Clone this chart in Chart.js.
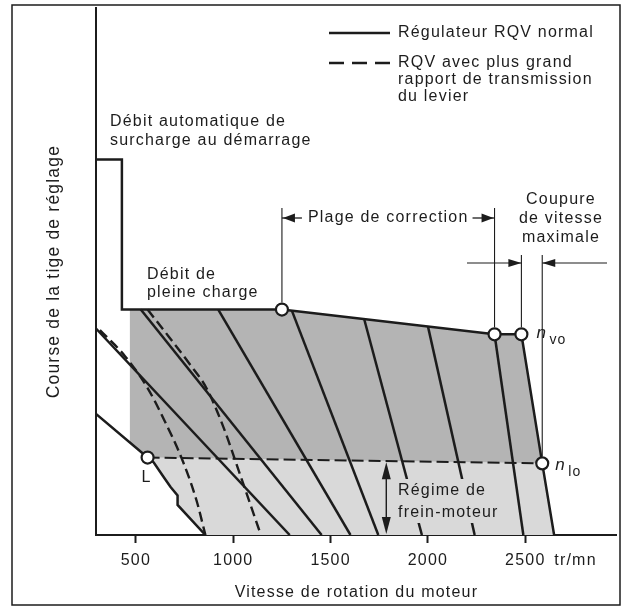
<!DOCTYPE html>
<html>
<head>
<meta charset="utf-8">
<script src="https://cdn.jsdelivr.net/npm/chart.js@4/dist/chart.umd.min.js"></script>
<style>
  html, body { margin: 0; padding: 0; background: #fff; }
  #wrap { width: 625px; height: 608px; }
</style>
</head>
<body>
<div id="wrap"><canvas id="c" width="625" height="608"></canvas></div>
<script>
// ---- Axis ticks (engine speed, tr/mn) ----
const rpmTicks = [500, 1000, 1500, 2000, 2500];
const unitTickPos = 2758;               // where the "tr/mn" unit sits on the axis

// ---- Full-load stop with automatic start overload (rack travel, % of axis) ----
const fullLoadRpm    = [295, 428, 428, 1250, 2342, 2480];
const fullLoadStroke = [71.3, 71.3, 42.8, 42.8, 38.1, 38.1];

// ---- Maximum-speed breakaway (cut-off) ----
const cutoffRpm    = [2480, 2587, 2648];
const cutoffStroke = [38.1, 13.6, 0];

// ---- Normal RQV governor curves (one per lever position) ----
const rqvRpm = [
  [295, 1290], [525, 1454], [923, 1602], [1301, 1745],
  [1673, 1969], [2000, 2240], [2342, 2490]
];
const rqvStroke = [
  [39.2, 0], [42.8, 0], [42.8, 0], [42.6, 0],
  [40.9, 0], [39.6, 0], [38.1, 0]
];

// ---- Idle curve (through L) ----
const idleRpm    = [295, 560, 591, 637, 678, 714, 714, 857];
const idleStroke = [23.0, 14.7, 13.8, 11.3, 9.1, 7.5, 5.7, 0];

// ---- RQV with larger lever ratio (dashed) ----
const leverRpmA    = [560, 672, 775, 862, 943, 1045, 1142];
const leverStrokeA = [42.8, 37.5, 32.5, 27.9, 21.1, 10.4, 0];
const leverRpmB    = [315, 443, 560, 647, 739, 811, 857];
const leverStrokeB = [38.9, 34.0, 27.9, 21.7, 14.2, 6.6, 0];

// ---- Engine-braking limit (dashed, L to n_lo) ----
const brakeLimitRpm    = [560, 2587];
const brakeLimitStroke = [14.7, 13.6];

// ---- Characteristic points: L, start of correction, n_vo, n_lo ----
const markRpm    = [560, 1250, 2342, 2480, 2587];
const markStroke = [14.7, 42.8, 38.1, 38.1, 13.6];

// ---- Shaded zones ----
const loadZoneRpm     = [469, 1250, 2342, 2480, 2587, 560, 469, 469];
const loadZoneStroke  = [42.8, 42.8, 38.1, 38.1, 13.6, 14.7, 17.5, 42.8];
const brakeZoneRpm    = [560, 2587, 2648, 857, 714, 714, 678, 637, 591, 560];
const brakeZoneStroke = [14.7, 13.6, 0, 0, 5.7, 7.5, 9.1, 11.3, 13.8, 14.7];

// ---- Speed of the engine-braking arrow ----
const brakeArrowRpm = 1786;

const INK = '#1c1c1c';
const FONT = "'Liberation Sans', Arial, Helvetica, sans-serif";

const pts = (xs, ys) => xs.map((x, i) => ({ x, y: ys[i] }));

const solid = (data, w = 2.5) => ({
  data, showLine: true, borderColor: INK, borderWidth: w,
  pointRadius: 0, fill: false, tension: 0, order: 2
});
const dashed = (data, dash) => ({
  data, showLine: true, borderColor: INK, borderWidth: 2.4, borderDash: dash,
  pointRadius: 0, fill: false, cubicInterpolationMode: 'monotone', order: 2
});
const zone = (data, color) => ({
  data, showLine: true, borderWidth: 0, borderColor: 'rgba(0,0,0,0)',
  backgroundColor: color, fill: 'shape', pointRadius: 0, tension: 0, order: 10
});

const datasets = [
  zone(pts(loadZoneRpm, loadZoneStroke), '#b4b4b4'),
  zone(pts(brakeZoneRpm, brakeZoneStroke), '#d9d9d9'),
  ...rqvRpm.map((xs, i) => solid(pts(xs, rqvStroke[i]))),
  solid(pts(idleRpm, idleStroke)),
  solid(pts(fullLoadRpm, fullLoadStroke)),
  solid(pts(cutoffRpm, cutoffStroke)),
  dashed(pts(leverRpmA, leverStrokeA), [10, 5]),
  dashed(pts(leverRpmB, leverStrokeB), [10, 5]),
  { data: pts(brakeLimitRpm, brakeLimitStroke), showLine: true, borderColor: INK,
    borderWidth: 2, borderDash: [12, 5], pointRadius: 0, fill: false, order: 2 },
  { data: pts(markRpm, markStroke), showLine: false, pointRadius: 6,
    pointBackgroundColor: '#fff', pointBorderColor: INK, pointBorderWidth: 2.2, order: 0 }
];

// ---- Drawing helpers for the annotations ----
function txt(ctx, s, x, y, align = 'left', size = 16, style = '') {
  ctx.font = `${style} ${size}px ${FONT}`;
  ctx.fillStyle = INK;
  ctx.textAlign = align;
  ctx.textBaseline = 'middle';
  ctx.fillText(s, x, y);
}
function seg(ctx, x1, y1, x2, y2, w = 1.2) {
  ctx.beginPath();
  ctx.lineWidth = w;
  ctx.strokeStyle = INK;
  ctx.moveTo(x1, y1);
  ctx.lineTo(x2, y2);
  ctx.stroke();
}
// filled arrow head, tip at (x,y), pointing in direction (dx,dy)
function head(ctx, x, y, dx, dy, len = 14, half = 4.5) {
  const nx = -dy, ny = dx;
  ctx.beginPath();
  ctx.fillStyle = INK;
  ctx.moveTo(x, y);
  ctx.lineTo(x - dx * len + nx * half, y - dy * len + ny * half);
  ctx.lineTo(x - dx * len - nx * half, y - dy * len - ny * half);
  ctx.closePath();
  ctx.fill();
}

const annotations = {
  id: 'annotations',
  beforeDraw(chart) {
    chart.ctx.letterSpacing = '1.2px';
  },
  afterDatasetsDraw(chart) {
    const ctx = chart.ctx;
    const X = v => chart.scales.x.getPixelForValue(v);
    const Y = v => chart.scales.y.getPixelForValue(v);
    ctx.save();
    ctx.letterSpacing = '1.2px';

    // legend
    seg(ctx, 329, 33, 390, 33, 2.5);
    txt(ctx, 'Régulateur RQV normal', 398, 33);
    ctx.setLineDash([15, 8]);
    seg(ctx, 329, 63, 390, 63, 2.3);
    ctx.setLineDash([]);
    txt(ctx, 'RQV avec plus grand', 398, 63);
    txt(ctx, 'rapport de transmission', 398, 80);
    txt(ctx, 'du levier', 398, 97);

    // start overload / full load labels
    txt(ctx, 'Débit automatique de', 110, 122);
    txt(ctx, 'surcharge au démarrage', 110, 141);
    txt(ctx, 'Débit de', 147, 275);
    txt(ctx, 'pleine charge', 147, 293);

    // correction range
    const xc1 = X(markRpm[1]), xc2 = X(markRpm[2]);
    const yRow = 218;
    seg(ctx, xc1, yRow - 10, xc1, Y(markStroke[1]) - 7, 1.1);
    seg(ctx, xc2, yRow - 10, xc2, Y(markStroke[2]) - 7, 1.1);
    seg(ctx, xc1, yRow, xc1 + 20, yRow, 1.3);
    head(ctx, xc1 + 1, yRow, -1, 0, 12, 4.5);
    seg(ctx, xc2 - 22, yRow, xc2, yRow, 1.3);
    head(ctx, xc2 - 1, yRow, 1, 0, 12, 4.5);
    txt(ctx, 'Plage de correction', (xc1 + xc2) / 2, yRow, 'center');

    // maximum-speed cut-off
    const xv = X(markRpm[3]), xl = X(markRpm[4]);
    const yCut = 263;
    seg(ctx, xv, yCut - 8, xv, Y(markStroke[3]) - 7, 1.1);
    seg(ctx, xl, yCut - 8, xl, Y(markStroke[4]) - 7, 1.1);
    seg(ctx, 467, yCut, xv, yCut, 1.1);
    head(ctx, xv, yCut, 1, 0, 13, 4);
    seg(ctx, xl, yCut, 607, yCut, 1.1);
    head(ctx, xl, yCut, -1, 0, 13, 4);
    txt(ctx, 'Coupure', 561, 200, 'center');
    txt(ctx, 'de vitesse', 561, 219, 'center');
    txt(ctx, 'maximale', 561, 238, 'center');

    // n_vo / n_lo / L
    txt(ctx, 'n', X(markRpm[3]) + 15, Y(markStroke[3]) - 1, 'left', 17, 'italic');
    txt(ctx, 'vo', X(markRpm[3]) + 28, Y(markStroke[3]) + 6, 'left', 14);
    txt(ctx, 'n', X(markRpm[4]) + 13, Y(markStroke[4]) + 2, 'left', 17, 'italic');
    txt(ctx, 'lo', X(markRpm[4]) + 26, Y(markStroke[4]) + 9, 'left', 14);
    txt(ctx, 'L', X(markRpm[0]) - 6, Y(markStroke[0]) + 20, 'left', 16);

    // engine-braking label on its own background
    ctx.fillStyle = '#d9d9d9';
    ctx.fillRect(396, 479, 114, 44);
    txt(ctx, 'Régime de', 398, 491);
    txt(ctx, 'frein-moteur', 398, 513);

    // engine-braking double arrow
    const xa = X(brakeArrowRpm);
    const yTop = Y(14.0), yBot = Y(0);
    seg(ctx, xa, yTop + 10, xa, yBot - 10, 1.4);
    head(ctx, xa, yTop + 1, 0, -1, 17, 4.5);
    head(ctx, xa, yBot - 1, 0, 1, 17, 4.5);

    ctx.restore();
  },
  afterDraw(chart) {
    const ctx = chart.ctx;
    ctx.save();
    ctx.strokeStyle = INK;
    ctx.lineWidth = 1.5;
    ctx.strokeRect(12, 5, 608, 600);
    ctx.restore();
  }
};

new Chart(document.getElementById('c'), {
  type: 'scatter',
  data: { datasets },
  plugins: [annotations],
  options: {
    responsive: false,
    animation: false,
    devicePixelRatio: 1,
    layout: { padding: { top: 5, right: 5, left: 0, bottom: 0 } },
    plugins: { legend: { display: false }, tooltip: { enabled: false } },
    scales: {
      x: {
        type: 'linear', position: 'bottom', min: 295, max: 2970,
        afterBuildTicks: s => { s.ticks = [...rpmTicks, unitTickPos].map(v => ({ value: v })); },
        afterFit: s => { s.height = 73; },
        ticks: {
          autoSkip: false, maxRotation: 0, padding: 8, color: INK,
          font: { family: FONT, size: 16 },
          callback: v => (v === unitTickPos ? 'tr/mn' : String(v))
        },
        grid: {
          drawOnChartArea: false, drawTicks: true, tickLength: 8, tickWidth: 2,
          tickColor: c => (c.tick && c.tick.value === unitTickPos ? 'rgba(0,0,0,0)' : INK)
        },
        border: { display: true, color: INK, width: 2 },
        title: {
          display: true, text: 'Vitesse de rotation du moteur', color: INK,
          font: { family: FONT, size: 16 }, padding: { top: 0, bottom: 6 }
        }
      },
      y: {
        type: 'linear', position: 'left', min: 0, max: 100,
        afterFit: s => { s.width = 96; },
        ticks: { display: false },
        grid: { drawOnChartArea: false, drawTicks: false },
        border: { display: true, color: INK, width: 2 },
        title: {
          display: true, text: 'Course de la tige de réglage', color: INK,
          font: { family: FONT, size: 17.5 }, padding: { top: 44, bottom: 0 }
        }
      }
    }
  }
});
</script>
</body>
</html>
